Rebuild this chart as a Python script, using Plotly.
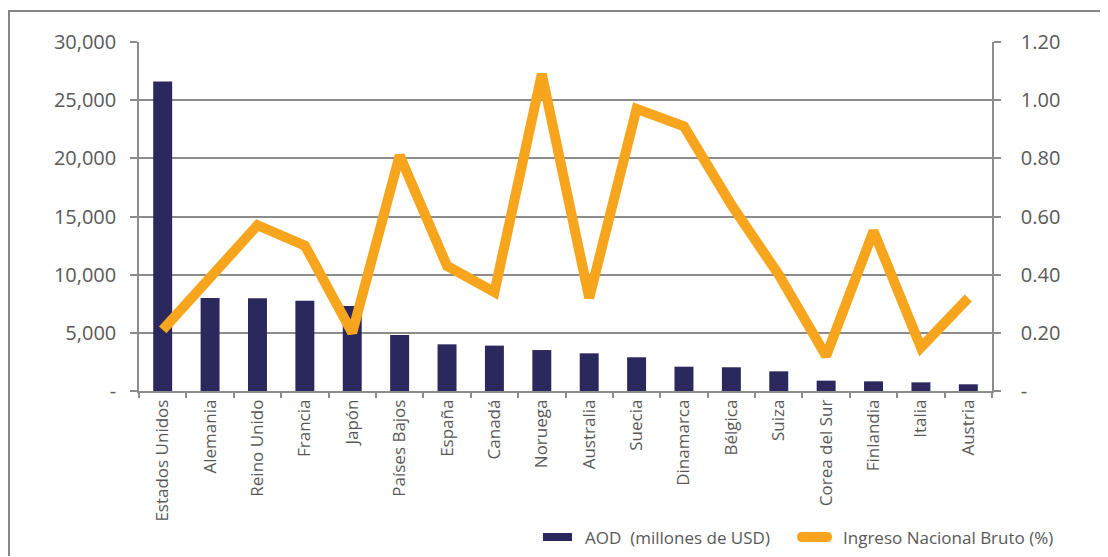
import plotly.graph_objects as go

countries = ["Estados Unidos", "Alemania", "Reino Unido", "Francia", "Japón", "Países Bajos",
             "España", "Canadá", "Noruega", "Australia", "Suecia", "Dinamarca", "Bélgica",
             "Suiza", "Corea del Sur", "Finlandia", "Italia", "Austria"]
aod = [26600, 8000, 7970, 7760, 7310, 4810, 4010, 3900, 3520, 3240, 2900, 2090, 2040,
       1690, 890, 830, 745, 575]
ingreso = [0.21, 0.39, 0.57, 0.50, 0.20, 0.81, 0.43, 0.34, 1.09, 0.32, 0.97, 0.91, 0.64,
           0.40, 0.12, 0.55, 0.15, 0.32]

left_vals = [0, 5000, 10000, 15000, 20000, 25000, 30000]
left_text = ["-", "5,000", "10,000", "15,000", "20,000", "25,000", "30,000"]
right_vals = [0, 0.2, 0.4, 0.6, 0.8, 1.0, 1.2]
right_text = ["-", "0.20", "0.40", "0.60", "0.80", "1.00", "1.20"]

name_bar = "AOD  (millones de USD)"
name_line = "Ingreso Nacional Bruto (%)"

FONT = "Open Sans"
TXT = "#595959"
GRID = "#8c8c8c"
FRAME = "#858585"
BAR_C = "#2a285c"
LINE_C = "#f7a51c"

fig = go.Figure()
fig.add_trace(go.Bar(x=countries, y=aod, name=name_bar, showlegend=False,
                     marker=dict(color=BAR_C, line=dict(width=0)), width=0.4, yaxis="y"))
fig.add_trace(go.Scatter(x=countries, y=ingreso, name=name_line, showlegend=False,
                         mode="lines", line=dict(color=LINE_C, width=10),
                         yaxis="y2"))

# page has an 8px body offset
OFF = 8
W, H = 1100, 549
L, R, T, B = 131, 116, 34, 166
pw, ph = W - L - R, H - T - B

def px(x):
    return (x - OFF - L) / pw

def py(y):
    return (OFF + H - B - y) / ph

shapes = [
    # outer frame drawn as thin filled strips (top and left edges)
    dict(type="rect", xref="paper", yref="paper", x0=px(8), x1=px(1107),
         y0=py(12), y1=py(10), fillcolor=FRAME, line=dict(width=0), layer="above"),
    dict(type="rect", xref="paper", yref="paper", x0=px(8), x1=px(10),
         y0=py(556), y1=py(10), fillcolor=FRAME, line=dict(width=0), layer="above"),
    # legend symbols
    dict(type="rect", xref="paper", yref="paper", x0=px(543), x1=px(572),
         y0=py(533), y1=py(541), fillcolor=BAR_C, line=dict(width=0)),
    dict(type="path", xref="paper", yref="paper",
         path=f"M {px(802)},{py(532)} L {px(827)},{py(532)} "
              f"Q {px(832)},{py(532)} {px(832)},{py(537)} "
              f"Q {px(832)},{py(542)} {px(827)},{py(542)} "
              f"L {px(802)},{py(542)} "
              f"Q {px(797)},{py(542)} {px(797)},{py(537)} "
              f"Q {px(797)},{py(532)} {px(802)},{py(532)} Z",
         fillcolor=LINE_C, line=dict(width=0)),
]

annotations = [
    dict(xref="paper", yref="paper", x=px(583), y=py(537), xanchor="left", yanchor="middle",
         text=name_bar, showarrow=False, font=dict(size=17, color=TXT, family=FONT)),
    dict(xref="paper", yref="paper", x=px(841), y=py(537), xanchor="left", yanchor="middle",
         text=name_line, showarrow=False, font=dict(size=17, color=TXT, family=FONT)),
]

fig.update_layout(
    width=W, height=H,
    margin=dict(l=L, r=R, t=T, b=B, pad=0),
    paper_bgcolor="white", plot_bgcolor="white",
    font=dict(family=FONT, color=TXT, size=16),
    showlegend=False,
    xaxis=dict(showline=True, linecolor=GRID, linewidth=1.5, ticks="outside",
               tickson="boundaries", ticklen=5, tickcolor=GRID, tickwidth=1.5,
               tickangle=-90, tickfont=dict(size=17, color=TXT, family=FONT),
               showgrid=False),
    yaxis=dict(range=[0, 30000], tickvals=left_vals, ticktext=left_text,
               showline=True, linecolor=GRID, linewidth=1.5, ticks="outside",
               ticklen=7, tickcolor=GRID, tickwidth=1.5,
               showgrid=True, gridcolor=GRID, gridwidth=1.5, zeroline=False,
               tickfont=dict(size=20, color=TXT, family=FONT), ticklabelstandoff=10),
    yaxis2=dict(range=[0, 1.2], tickvals=right_vals, ticktext=right_text,
                overlaying="y", side="right",
                showline=True, linecolor=GRID, linewidth=1.5, ticks="outside",
                ticklen=7, tickcolor=GRID, tickwidth=1.5,
                showgrid=False, zeroline=False,
                tickfont=dict(size=20, color=TXT, family=FONT), ticklabelstandoff=16),
    shapes=shapes,
    annotations=annotations,
)

fig.write_html("out.html", config={"displayModeBar": False})
